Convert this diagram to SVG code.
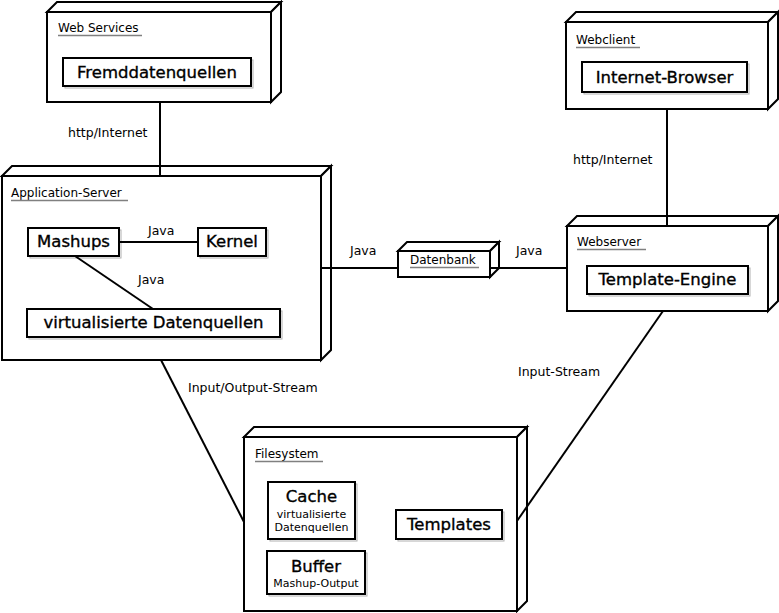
<svg xmlns="http://www.w3.org/2000/svg" width="779" height="613" viewBox="0 0 779 613">
  <style>
    .face { fill: #ffffff; stroke: #000000; stroke-width: 2; stroke-linejoin: miter; }
    .box { fill: #ffffff; stroke: #000000; stroke-width: 2; }
    .shadow { fill: none; stroke: #b0b0b0; stroke-width: 1; }
    .title { font-family: "DejaVu Sans", Verdana, sans-serif; font-size: 12px; fill: #000000; }
    .uline { stroke: #808080; stroke-width: 1.5; }
    .comp { font-family: "DejaVu Sans", Verdana, sans-serif; font-size: 16.5px; fill: #000000; stroke: #000000; stroke-width: 0.35; text-anchor: middle; }
    .sub { font-family: "DejaVu Sans", Verdana, sans-serif; font-size: 11px; fill: #000000; text-anchor: middle; }
    .lbl { font-family: "DejaVu Sans", Verdana, sans-serif; font-size: 12.5px; fill: #000000; }
    .conn { stroke: #000000; stroke-width: 2; fill: none; }
  </style>

  <!-- Web Services node -->
  <g id="web-services">
    <polygon class="face" points="47,12 57,2 281,2 271,12"/>
    <polygon class="face" points="271,12 281,2 281,92 271,102"/>
    <rect class="face" x="47" y="12" width="224" height="90"/>
    <text class="title" x="58" y="32">Web Services</text>
    <line class="uline" x1="58" y1="35.5" x2="142" y2="35.5"/>
    <g id="fremddatenquellen">
      <rect class="shadow" x="65" y="60" width="188" height="28"/>
      <rect class="box" x="63" y="58" width="188" height="28"/>
      <text class="comp" x="157" y="78">Fremddatenquellen</text>
    </g>
  </g>

  <!-- Application-Server node -->
  <g id="application-server">
    <polygon class="face" points="2,176 12,166 331,166 321,176"/>
    <polygon class="face" points="321,176 331,166 331,350 321,360"/>
    <rect class="face" x="2" y="176" width="319" height="184"/>
    <text class="title" x="11" y="197">Application-Server</text>
    <line class="uline" x1="11" y1="200.5" x2="128" y2="200.5"/>
    <g id="mashups">
      <rect class="shadow" x="30" y="230" width="91" height="28"/>
      <rect class="box" x="28" y="228" width="91" height="28"/>
      <text class="comp" x="73.5" y="247">Mashups</text>
    </g>
    <g id="kernel">
      <rect class="shadow" x="200" y="230" width="68" height="28"/>
      <rect class="box" x="198" y="228" width="68" height="28"/>
      <text class="comp" x="232" y="247">Kernel</text>
    </g>
    <g id="virtualisierte-datenquellen">
      <rect class="shadow" x="29" y="311" width="253" height="28"/>
      <rect class="box" x="27" y="309" width="253" height="28"/>
      <text class="comp" x="153.5" y="328">virtualisierte Datenquellen</text>
    </g>
  </g>

  <!-- Datenbank node -->
  <g id="datenbank">
    <polygon class="face" points="398,251 407,242 499,242 490,251"/>
    <polygon class="face" points="490,251 499,242 499,268 490,277"/>
    <rect class="face" x="398" y="251" width="92" height="26"/>
    <text class="title" x="410" y="264">Datenbank</text>
    <line class="uline" x1="410" y1="267.5" x2="479" y2="267.5"/>
  </g>

  <!-- Webclient node -->
  <g id="webclient">
    <polygon class="face" points="566,22 576,12 778,12 768,22"/>
    <polygon class="face" points="768,22 778,12 778,99 768,109"/>
    <rect class="face" x="566" y="22" width="202" height="87"/>
    <text class="title" x="576" y="44">Webclient</text>
    <line class="uline" x1="576" y1="47.5" x2="640" y2="47.5"/>
    <g id="internet-browser">
      <rect class="shadow" x="584" y="64" width="165" height="30"/>
      <rect class="box" x="582" y="62" width="165" height="30"/>
      <text class="comp" x="664.5" y="83">Internet-Browser</text>
    </g>
  </g>

  <!-- Webserver node -->
  <g id="webserver">
    <polygon class="face" points="567,226 577,216 778,216 768,226"/>
    <polygon class="face" points="768,226 778,216 778,301 768,311"/>
    <rect class="face" x="567" y="226" width="201" height="85"/>
    <text class="title" x="577" y="246">Webserver</text>
    <line class="uline" x1="577" y1="249.5" x2="646" y2="249.5"/>
    <g id="template-engine">
      <rect class="shadow" x="589" y="268" width="161" height="28"/>
      <rect class="box" x="587" y="266" width="161" height="28"/>
      <text class="comp" x="667.5" y="285">Template-Engine</text>
    </g>
  </g>

  <!-- Filesystem node -->
  <g id="filesystem">
    <polygon class="face" points="244,437 254,427 527,427 517,437"/>
    <polygon class="face" points="517,437 527,427 527,601 517,611"/>
    <rect class="face" x="244" y="437" width="273" height="174"/>
    <text class="title" x="255" y="458">Filesystem</text>
    <line class="uline" x1="255" y1="461.5" x2="323" y2="461.5"/>
    <g id="cache">
      <rect class="shadow" x="270" y="484" width="87" height="57"/>
      <rect class="box" x="268" y="482" width="87" height="57"/>
      <text class="comp" x="311.5" y="502">Cache</text>
      <text class="sub" x="311.5" y="518">virtualisierte</text>
      <text class="sub" x="311.5" y="531">Datenquellen</text>
    </g>
    <g id="buffer">
      <rect class="shadow" x="269" y="553" width="98" height="43"/>
      <rect class="box" x="267" y="551" width="98" height="43"/>
      <text class="comp" x="316" y="572">Buffer</text>
      <text class="sub" x="316" y="587">Mashup-Output</text>
    </g>
    <g id="templates">
      <rect class="shadow" x="398" y="512" width="106" height="29"/>
      <rect class="box" x="396" y="510" width="106" height="29"/>
      <text class="comp" x="449" y="530">Templates</text>
    </g>
  </g>

  <!-- Connectors with their labels -->
  <g id="connectors">
    <line class="conn" x1="160" y1="102" x2="160" y2="176"/>
    <text class="lbl" x="68" y="137">http/Internet</text>

    <line class="conn" x1="119" y1="242" x2="198" y2="242"/>
    <text class="lbl" x="148" y="235">Java</text>

    <line class="conn" x1="75" y1="256" x2="153" y2="309"/>
    <text class="lbl" x="138" y="284">Java</text>

    <line class="conn" x1="321" y1="268" x2="398" y2="268"/>
    <text class="lbl" x="350" y="255">Java</text>

    <line class="conn" x1="490" y1="268" x2="567" y2="268"/>
    <text class="lbl" x="516" y="255">Java</text>

    <line class="conn" x1="667" y1="109" x2="667" y2="226"/>
    <text class="lbl" x="573" y="164">http/Internet</text>

    <line class="conn" x1="161" y1="360" x2="244" y2="522"/>
    <text class="lbl" x="188" y="392">Input/Output-Stream</text>

    <line class="conn" x1="663" y1="311" x2="517" y2="521"/>
    <text class="lbl" x="518" y="376">Input-Stream</text>
  </g>
</svg>
